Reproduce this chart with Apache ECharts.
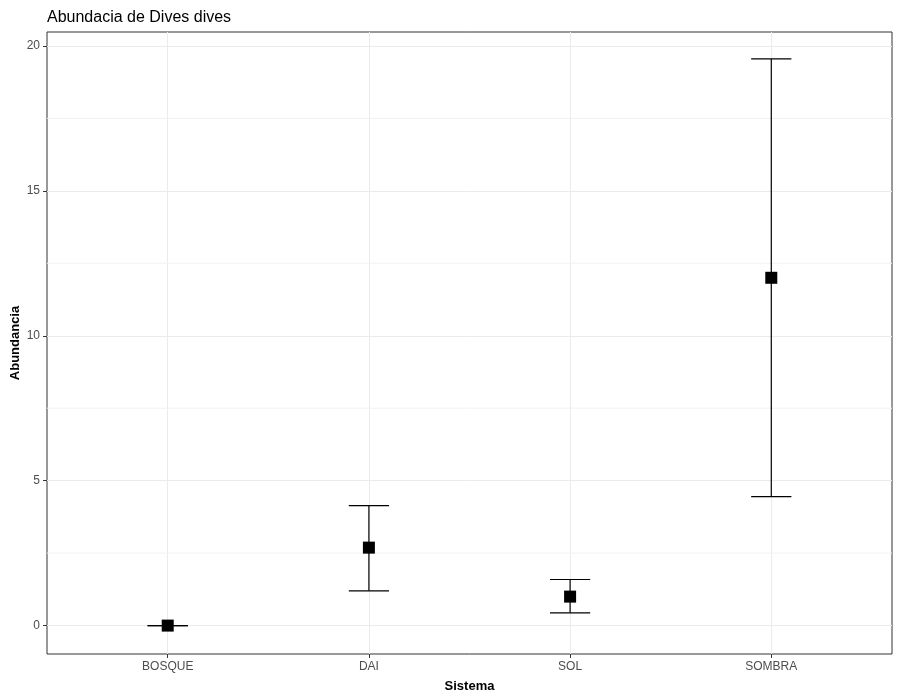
<!DOCTYPE html>
<html>
<head>
<meta charset="utf-8">
<script src="https://cdn.jsdelivr.net/npm/echarts@6/dist/echarts.min.js"></script>
<style>
  html, body { margin: 0; padding: 0; background: #fff; }
  #chart { width: 900px; height: 700px; }
</style>
</head>
<body>
<div id="chart"></div>
<script>
// data
var categories = ['BOSQUE', 'DAI', 'SOL', 'SOMBRA'];
var means = [0, 2.69, 1.0, 12.0];
var lower = [0, 1.2, 0.44, 4.45];
var upper = [0, 4.14, 1.59, 19.55];
var yTicks = [0, 5, 10, 15, 20];
var yMinor = [2.5, 7.5, 12.5, 17.5];

var font = "'Liberation Sans', Arial, sans-serif";
var capWidth = 0.2; // in category units, like ggplot's width

var pointData = categories.map(function (c, i) { return [i + 1, means[i]]; });
var barData = categories.map(function (c, i) { return [i + 1, lower[i], upper[i]]; });
var minorData = yMinor.map(function (v) { return [0.4, v]; });

var chart = echarts.init(document.getElementById('chart'));
chart.setOption({
  animation: false,
  backgroundColor: '#fff',
  title: {
    text: 'Abundacia de Dives dives',
    left: 42, top: 5,
    textStyle: { fontFamily: font, fontSize: 16, fontWeight: 'normal', color: '#000' }
  },
  grid: {
    left: 47, right: 8, top: 32, bottom: 46,
    outerBoundsMode: 'none',
    containLabel: false,
    show: true, borderColor: '#333', borderWidth: 1, backgroundColor: 'transparent'
  },
  xAxis: {
    type: 'value',
    min: 0.4, max: 4.6,
    name: 'Sistema',
    nameLocation: 'middle',
    nameGap: 26,
    nameMoveOverlap: false,
    nameTextStyle: { fontFamily: font, fontSize: 13, fontWeight: 'bold', color: '#000' },
    axisLine: { show: false, onZero: false },
    axisTick: { show: true, length: 4, lineStyle: { color: '#333' }, customValues: [1, 2, 3, 4] },
    axisLabel: {
      fontFamily: font, fontSize: 12, color: '#4d4d4d', margin: 7,
      customValues: [1, 2, 3, 4],
      formatter: function (v) { return categories[Math.round(v) - 1] || ''; }
    },
    splitLine: { show: true, lineStyle: { color: '#ebebeb', width: 1 } }
  },
  yAxis: {
    type: 'value',
    min: -0.98, max: 20.48,
    name: 'Abundancia',
    nameLocation: 'middle',
    nameGap: 25,
    nameMoveOverlap: false,
    nameRotate: 90,
    nameTextStyle: { fontFamily: font, fontSize: 13, fontWeight: 'bold', color: '#000' },
    axisLine: { show: false, onZero: false },
    axisTick: { show: true, length: 4, lineStyle: { color: '#333' }, customValues: yTicks },
    axisLabel: {
      fontFamily: font, fontSize: 12, color: '#4d4d4d', margin: 7,
      customValues: yTicks
    },
    splitLine: { show: true, lineStyle: { color: '#ebebeb', width: 1 } }
  },
  series: [
    {
      // minor horizontal grid lines
      type: 'custom',
      data: minorData,
      silent: true,
      z: 1,
      renderItem: function (params, api) {
        var a = api.coord([0.4, api.value(1)]);
        var b = api.coord([4.6, api.value(1)]);
        return {
          type: 'line',
          shape: { x1: a[0], y1: a[1], x2: b[0], y2: b[1] },
          style: { stroke: '#f2f2f2', lineWidth: 1 }
        };
      }
    },
    {
      type: 'custom',
      data: barData,
      renderItem: function (params, api) {
        var x = api.value(0);
        var lo = api.coord([x, api.value(1)]);
        var hi = api.coord([x, api.value(2)]);
        var l = api.coord([x - capWidth / 2, api.value(1)])[0];
        var r = api.coord([x + capWidth / 2, api.value(1)])[0];
        var style = { stroke: '#000', lineWidth: 1.2 };
        return {
          type: 'group',
          children: [
            { type: 'line', shape: { x1: lo[0], y1: lo[1], x2: hi[0], y2: hi[1] }, style: style },
            { type: 'line', shape: { x1: l, y1: hi[1], x2: r, y2: hi[1] }, style: style },
            { type: 'line', shape: { x1: l, y1: lo[1], x2: r, y2: lo[1] }, style: style }
          ]
        };
      },
      z: 5
    },
    {
      type: 'scatter',
      data: pointData,
      symbol: 'rect',
      symbolSize: 12,
      itemStyle: { color: '#000', opacity: 1 },
      z: 6
    }
  ]
});
</script>
</body>
</html>
